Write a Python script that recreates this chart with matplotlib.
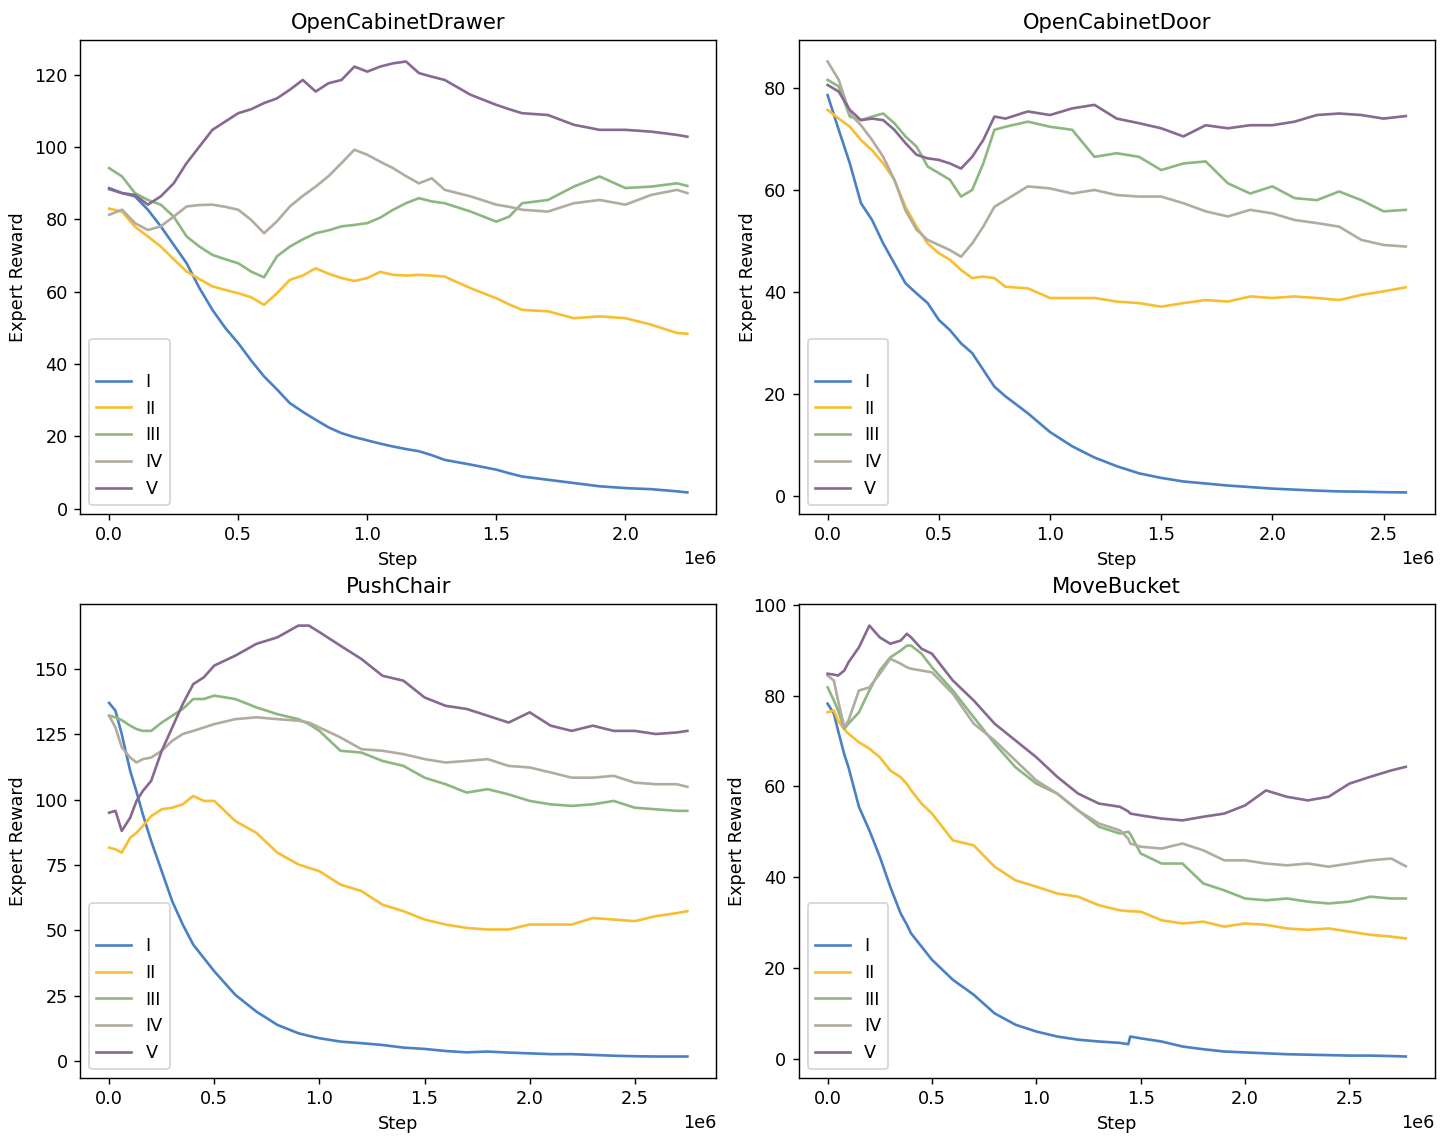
import numpy as np
import matplotlib
matplotlib.use('Agg')
import matplotlib.pyplot as plt

# %% Expert reward curves for the four ManiSkill tasks
# step values are in units of 1e6 environment steps

labels = ['I', 'II', 'III', 'IV', 'V']
colors = ['#4a80c4', '#f8be32', '#8cb880', '#b2aca0', '#876991']

# OpenCabinetDrawer
drawer_step = [0, 0.05, 0.1, 0.15, 0.2, 0.25, 0.3, 0.35, 0.4, 0.45,
               0.5, 0.55, 0.6, 0.65, 0.7, 0.75, 0.8, 0.85, 0.9, 0.95,
               1.0, 1.05, 1.1, 1.15, 1.2, 1.25, 1.3,
               1.4, 1.5, 1.55, 1.6, 1.7, 1.8, 1.9, 2.0, 2.1, 2.2, 2.24]
drawer_I = [88.7, 87.3, 86.4, 82.7, 78.1, 73.0, 67.9, 61.0, 55.0, 50.0,
            45.8, 41.0, 36.6, 33.0, 29.2, 26.8, 24.6, 22.5, 20.9, 19.8,
            18.9, 18.0, 17.2, 16.5, 15.9, 14.8, 13.5,
            12.2, 10.8, 9.8, 8.9, 8.0, 7.1, 6.2, 5.7, 5.4, 4.8, 4.5]
drawer_II = [83.0, 82.2, 78.0, 75.3, 72.5, 69.0, 65.6, 63.5, 61.5, 60.5,
             59.6, 58.5, 56.4, 59.6, 63.3, 64.5, 66.5, 65.0, 63.8, 63.0,
             63.8, 65.5, 64.7, 64.5, 64.7, 64.5, 64.2,
             61.0, 58.2, 56.5, 55.0, 54.6, 52.7, 53.2, 52.7, 50.9, 48.6, 48.4]
drawer_III = [94.2, 91.9, 87.3, 85.4, 84.1, 80.8, 75.3, 72.5, 70.2, 69.0,
              67.9, 65.6, 64.0, 69.8, 72.5, 74.5, 76.2, 77.0, 78.1, 78.5,
              79.0, 80.5, 82.7, 84.5, 85.9, 85.0, 84.5,
              82.2, 79.4, 80.8, 84.5, 85.4, 89.1, 91.9, 88.7, 89.1, 90.0, 89.3]
drawer_IV = [81.3, 82.7, 79.0, 77.1, 78.1, 80.8, 83.6, 84.0, 84.1, 83.5,
             82.7, 79.9, 76.2, 79.5, 83.6, 86.5, 89.1, 92.0, 95.6, 99.3,
             97.9, 96.0, 94.2, 92.0, 90.0, 91.4, 88.2,
             86.4, 84.1, 83.5, 82.7, 82.2, 84.5, 85.4, 84.1, 86.8, 88.2, 87.3]
drawer_V = [88.4, 87.3, 86.8, 84.1, 86.4, 90.0, 95.6, 100.2, 104.8, 107.1,
            109.4, 110.5, 112.2, 113.5, 115.9, 118.6, 115.4, 117.7, 118.6, 122.3,
            120.9, 122.3, 123.2, 123.7, 120.5, 119.5, 118.6,
            114.5, 111.7, 110.5, 109.4, 108.9, 106.2, 104.8, 104.8, 104.3, 103.4, 102.9]

# OpenCabinetDoor
door_step = [0, 0.05, 0.1, 0.15, 0.2, 0.25, 0.3, 0.35, 0.4, 0.45,
             0.5, 0.55, 0.6, 0.65, 0.7, 0.75, 0.8,
             0.9, 1.0, 1.1, 1.2, 1.3, 1.4, 1.5, 1.6, 1.7,
             1.8, 1.9, 2.0, 2.1, 2.2, 2.3, 2.4, 2.5, 2.6]
door_I = [78.6, 71.8, 65.2, 57.4, 54.1, 49.5, 45.6, 41.7, 39.7, 37.8,
          34.5, 32.5, 29.9, 28.0, 24.7, 21.4, 19.5,
          16.2, 12.5, 9.7, 7.5, 5.8, 4.4, 3.5, 2.8, 2.4,
          2.0, 1.7, 1.4, 1.2, 1.0, 0.85, 0.8, 0.7, 0.65]
door_II = [75.7, 74.0, 72.4, 69.8, 67.8, 65.2, 62.0, 56.7, 52.8, 49.5,
           47.6, 46.3, 44.3, 42.7, 43.0, 42.7, 41.0,
           40.7, 38.8, 38.8, 38.8, 38.1, 37.8, 37.1, 37.8, 38.4,
           38.1, 39.1, 38.8, 39.1, 38.8, 38.4, 39.4, 40.1, 40.9]
door_III = [81.6, 80.3, 74.4, 73.7, 74.4, 75.0, 73.1, 70.5, 68.5, 64.6,
            63.3, 62.0, 58.7, 60.0, 65.2, 71.8, 72.4,
            73.4, 72.4, 71.8, 66.5, 67.2, 66.5, 63.9, 65.2, 65.6,
            61.3, 59.3, 60.7, 58.4, 58.0, 59.7, 58.0, 55.8, 56.1]
door_IV = [85.2, 81.6, 75.0, 72.7, 69.8, 66.5, 62.0, 56.0, 52.2, 50.2,
           49.2, 48.2, 46.9, 49.5, 52.8, 56.7, 58.0,
           60.7, 60.3, 59.3, 60.0, 59.0, 58.7, 58.7, 57.4, 55.8,
           54.8, 56.1, 55.4, 54.1, 53.5, 52.8, 50.2, 49.2, 48.9]
door_V = [80.6, 79.3, 75.7, 73.7, 74.0, 73.7, 71.8, 69.2, 66.9, 66.2,
          65.9, 65.2, 64.2, 66.5, 69.8, 74.4, 74.0,
          75.4, 74.7, 76.0, 76.7, 74.0, 73.1, 72.1, 70.5, 72.7,
          72.1, 72.7, 72.7, 73.4, 74.7, 75.0, 74.7, 74.0, 74.5]

# PushChair
chair_step = [0, 0.03, 0.06, 0.1, 0.13, 0.16, 0.2, 0.25, 0.3, 0.35,
              0.4, 0.45, 0.5, 0.6, 0.7, 0.8, 0.9, 0.95, 1.0,
              1.1, 1.2, 1.3, 1.4, 1.5, 1.6, 1.7, 1.8, 1.9, 2.0,
              2.1, 2.2, 2.3, 2.4, 2.5, 2.6, 2.7, 2.75]
chair_I = [137.0, 134.0, 125.0, 111.0, 103.0, 94.4, 84.1, 72.6, 61.1, 52.2,
           44.5, 39.4, 34.3, 25.3, 18.9, 13.8, 10.6, 9.6, 8.7,
           7.4, 6.8, 6.1, 5.1, 4.6, 3.8, 3.3, 3.6, 3.2, 2.9,
           2.6, 2.6, 2.3, 2.0, 1.8, 1.7, 1.7, 1.7]
chair_II = [81.6, 81.0, 79.7, 85.4, 87.3, 89.9, 93.7, 96.3, 96.9, 98.2,
            101.4, 99.5, 99.5, 91.8, 87.3, 79.7, 75.2, 73.9, 72.6,
            67.5, 65.0, 59.8, 57.3, 54.1, 52.2, 50.9, 50.3, 50.3, 52.2,
            52.2, 52.2, 54.7, 54.1, 53.5, 55.4, 56.6, 57.3]
chair_III = [132.1, 131.5, 130.4, 128.3, 127.0, 126.3, 126.3, 129.5, 132.1, 134.7,
             138.5, 138.5, 139.8, 138.5, 135.3, 132.7, 130.8, 128.9, 126.3,
             118.7, 118.0, 114.8, 112.9, 108.4, 105.9, 102.7, 104.0, 102.0, 99.5,
             98.2, 97.6, 98.2, 99.5, 96.9, 96.3, 95.7, 95.7]
chair_IV = [132.1, 127.6, 120.0, 116.1, 114.2, 115.5, 116.1, 118.7, 122.5, 125.1,
            126.3, 127.6, 128.9, 130.8, 131.5, 130.8, 130.2, 129.5, 127.6,
            123.8, 119.3, 118.7, 117.4, 115.5, 114.2, 114.8, 115.5, 112.9, 112.3,
            110.4, 108.4, 108.4, 109.1, 106.5, 105.9, 105.9, 104.9]
chair_V = [95.0, 95.7, 88.0, 93.1, 99.5, 103.3, 107.2, 118.7, 127.6, 136.6,
           144.2, 146.8, 151.3, 155.1, 159.6, 162.1, 166.6, 166.6, 164.1,
           158.9, 153.8, 147.4, 145.5, 139.1, 135.9, 134.7, 132.1, 129.5, 133.4,
           128.3, 126.3, 128.3, 126.3, 126.3, 125.1, 125.7, 126.3]

# MoveBucket
bucket_step = [0, 0.03, 0.05, 0.08, 0.1, 0.15, 0.2, 0.25, 0.3, 0.35,
               0.38, 0.4, 0.45, 0.5, 0.6, 0.7, 0.8, 0.9, 1.0, 1.1,
               1.2, 1.3, 1.4, 1.44, 1.45, 1.5, 1.6, 1.7, 1.8, 1.9,
               2.0, 2.1, 2.2, 2.3, 2.4, 2.5, 2.6, 2.7, 2.77]
bucket_I = [78.2, 76.0, 72.3, 67.0, 64.2, 55.5, 50.3, 44.5, 37.9, 32.0,
            29.5, 27.6, 24.7, 21.8, 17.4, 14.1, 10.0, 7.5, 6.0, 4.9,
            4.2, 3.8, 3.5, 3.2, 4.9, 4.5, 3.8, 2.7, 2.1, 1.6,
            1.4, 1.2, 1.0, 0.9, 0.8, 0.7, 0.7, 0.6, 0.5]
bucket_II = [76.3, 76.7, 74.5, 72.5, 71.6, 69.7, 68.3, 66.4, 63.5, 62.0,
             60.5, 59.1, 56.2, 54.0, 48.1, 47.0, 42.3, 39.3, 37.9, 36.4,
             35.7, 33.8, 32.7, 32.5, 32.5, 32.4, 30.5, 29.8, 30.2, 29.1,
             29.8, 29.5, 28.7, 28.4, 28.7, 28.0, 27.3, 26.9, 26.5]
bucket_III = [81.8, 78.9, 76.7, 72.7, 73.8, 76.3, 81.1, 85.5, 88.4, 89.9,
              91.0, 91.0, 89.2, 86.2, 81.1, 75.2, 69.4, 64.2, 60.6, 58.4,
              54.7, 51.1, 49.6, 50.0, 49.5, 45.2, 43.0, 43.0, 38.6, 37.1,
              35.3, 34.9, 35.3, 34.6, 34.2, 34.6, 35.7, 35.3, 35.3]
bucket_IV = [84.4, 83.3, 78.9, 73.0, 74.5, 81.1, 81.8, 84.8, 88.1, 87.0,
             86.2, 85.9, 85.5, 85.1, 80.4, 73.8, 70.1, 65.7, 61.3, 58.4,
             54.7, 51.8, 50.3, 48.5, 47.4, 46.7, 46.3, 47.4, 45.9, 43.7,
             43.7, 43.0, 42.6, 43.0, 42.3, 43.0, 43.7, 44.1, 42.4]
bucket_V = [84.8, 84.6, 84.4, 85.5, 87.3, 90.6, 95.4, 92.8, 91.4, 92.1,
            93.6, 92.8, 90.3, 89.2, 83.3, 78.9, 73.8, 70.1, 66.4, 62.1,
            58.4, 56.2, 55.5, 54.5, 54.0, 53.6, 52.9, 52.5, 53.3, 54.0,
            55.8, 59.1, 57.7, 56.9, 57.7, 60.6, 62.1, 63.5, 64.3]

tasks = [
    ('OpenCabinetDrawer', drawer_step, [drawer_I, drawer_II, drawer_III, drawer_IV, drawer_V]),
    ('OpenCabinetDoor', door_step, [door_I, door_II, door_III, door_IV, door_V]),
    ('PushChair', chair_step, [chair_I, chair_II, chair_III, chair_IV, chair_V]),
    ('MoveBucket', bucket_step, [bucket_I, bucket_II, bucket_III, bucket_IV, bucket_V]),
]

dpi = 127
fig, axs = plt.subplots(2, 2, figsize=(1446 / dpi, 1142 / dpi))
fig.subplots_adjust(left=0.0555, right=0.9922, top=0.965, bottom=0.056,
                    wspace=0.1296, hspace=0.19)

for ax, (title, step, series) in zip(axs.flat, tasks):
    x = np.array(step) * 1e6
    for vals, lab, c in zip(series, labels, colors):
        ax.plot(x, vals, color=c, label=lab, lw=1.5)

    #Formatting - title/axes/labels
    ax.set_title(title)
    ax.set_xlabel('Step')
    ax.set_ylabel('Expert Reward')
    ax.legend(loc='lower left', title=' ')

plt.savefig('out.png', dpi=dpi, facecolor='white')
plt.close()
